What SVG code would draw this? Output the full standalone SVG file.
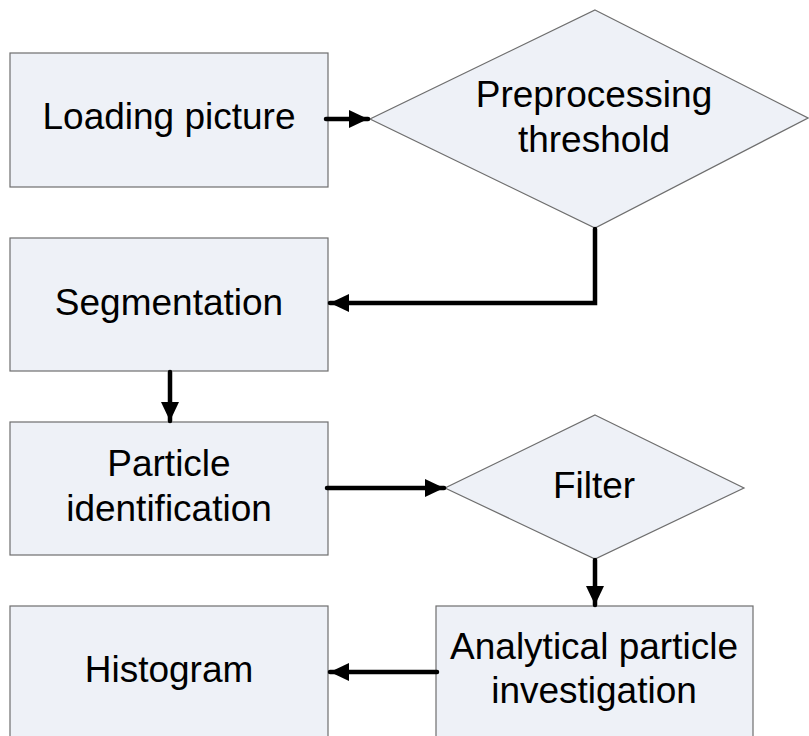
<svg xmlns="http://www.w3.org/2000/svg" width="809" height="736" viewBox="0 0 809 736">
<style>
.box{fill:#EEF1F7;stroke:#6e6e6e;stroke-width:1.2}
.dia{fill:#EEF1F7;stroke:#6e6e6e;stroke-width:1.2}
.lbl{font-family:"Liberation Sans",Arial,sans-serif;font-size:37px;fill:#000;text-anchor:middle}
.con{fill:none;stroke:#000;stroke-width:4.5;stroke-linejoin:miter;stroke-linecap:round}
</style>
<defs>
<marker id="ah" markerUnits="userSpaceOnUse" markerWidth="20" markerHeight="20" viewBox="0 0 20 20" refX="19" refY="10" orient="auto">
<path d="M0,1 L19,10 L0,19 Z" fill="#000"/>
</marker>
</defs>
<rect width="809" height="736" fill="#fff"/>
<g id="n-loading">
<rect class="box" x="10" y="53" width="318" height="134"/>
<text class="lbl" x="169" y="129">Loading picture</text>
</g>
<g id="n-preprocessing">
<polygon class="dia" points="595,10 808,118 595,228 370,119"/>
<text class="lbl" x="594" y="107">Preprocessing</text>
<text class="lbl" x="594" y="152">threshold</text>
</g>
<g id="n-segmentation">
<rect class="box" x="10" y="238" width="318" height="133"/>
<text class="lbl" x="169" y="315">Segmentation</text>
</g>
<g id="n-particle">
<rect class="box" x="10" y="422" width="318" height="133"/>
<text class="lbl" x="169" y="476">Particle</text>
<text class="lbl" x="169" y="521">identification</text>
</g>
<g id="n-filter">
<polygon class="dia" points="595,415 744,488 595,559 445,488"/>
<text class="lbl" x="594" y="498">Filter</text>
</g>
<g id="n-analytical">
<rect class="box" x="436" y="606" width="317" height="140"/>
<text class="lbl" x="594" y="659">Analytical particle</text>
<text class="lbl" x="594" y="703">investigation</text>
</g>
<g id="n-histogram">
<rect class="box" x="10" y="606" width="318" height="140"/>
<text class="lbl" x="169" y="682">Histogram</text>
</g>
<g id="connectors">
<path class="con" d="M326,119 L368,119" marker-end="url(#ah)"/>
<path class="con" d="M595,229 L595,303 L330,303" marker-end="url(#ah)"/>
<path class="con" d="M170,372 L170,421" marker-end="url(#ah)"/>
<path class="con" d="M327,488 L444,488" marker-end="url(#ah)"/>
<path class="con" d="M595,560 L595,605" marker-end="url(#ah)"/>
<path class="con" d="M437,672 L330,672" marker-end="url(#ah)"/>
</g>
</svg>
